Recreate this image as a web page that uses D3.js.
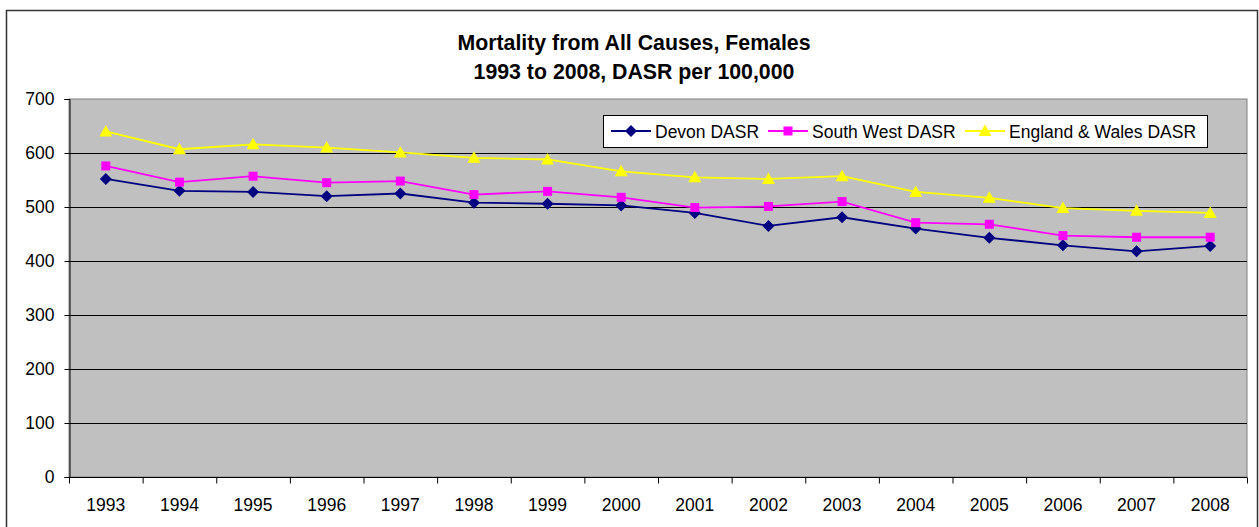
<!DOCTYPE html>
<html>
<head>
<meta charset="utf-8">
<script src="https://cdn.jsdelivr.net/npm/d3@7"></script>
<style>
  body { margin: 0; background: #fff; }
  svg text { font-family: "Liberation Sans", Arial, sans-serif; fill: #000; }
</style>
</head>
<body>
<svg id="chart" width="1259" height="527"></svg>
<script>
const years = ["1993","1994","1995","1996","1997","1998","1999","2000","2001","2002","2003","2004","2005","2006","2007","2008"]
const devon = [552, 530, 528, 520, 525, 508, 506, 503, 489, 465, 481, 460, 443, 429, 418, 428]
const southWest = [576, 546, 557, 545, 548, 523, 529, 518, 499, 501, 510, 471, 468, 447, 444, 444]
const englandWales = [640, 607, 616, 610, 601, 591, 588, 566, 555, 552, 557, 528, 517, 498, 493, 489]
const yTicks = [0, 100, 200, 300, 400, 500, 600, 700]

const series = [
    {name: "Devon DASR", values: devon, color: "#000080", marker: "diamond"},
    {name: "South West DASR", values: southWest, color: "#ff00ff", marker: "square"},
    {name: "England & Wales DASR", values: englandWales, color: "#ffff00", marker: "triangle"}
]

const svg = d3.select("#chart")
const plotLeft = 69, plotRight = 1247, plotTop = 99, plotBottom = 477

// outer chart border
svg.append("rect")
    .attr("x", 6.5).attr("y", 10.5)
    .attr("width", 1251).attr("height", 530)
    .attr("fill", "#fff").attr("stroke", "#333").attr("stroke-width", 1.5)

const x = d3.scaleBand().domain(years).range([plotLeft, plotRight])
const y = d3.scaleLinear().domain([0, 700]).range([plotBottom, plotTop])

// plot area
svg.append("rect")
    .attr("x", plotLeft).attr("y", plotTop)
    .attr("width", plotRight - plotLeft).attr("height", plotBottom - plotTop)
    .attr("fill", "#c0c0c0").attr("stroke", "#808080")

// gridlines
svg.append("g")
    .selectAll("line")
    .data(yTicks.filter(d => d > 0 && d < 700))
    .join("line")
    .attr("x1", plotLeft).attr("x2", plotRight)
    .attr("y1", d => y(d) + 0.5).attr("y2", d => y(d) + 0.5)
    .attr("stroke", "#000")

// y axis
const yAxis = svg.append("g")
    .attr("transform", `translate(${plotLeft + 0.5},0)`)
    .call(d3.axisLeft(y).tickValues(yTicks).tickSize(5).tickPadding(10))
yAxis.attr("font-size", null)
yAxis.select(".domain").attr("stroke", "#000")
yAxis.selectAll("text").style("font-size", "17.5px")

// x axis: ticks on category boundaries
const xAxis = svg.append("g").attr("transform", `translate(0,${plotBottom + 0.5})`)
xAxis.append("line").attr("x1", plotLeft).attr("x2", plotRight).attr("stroke", "#000")
xAxis.selectAll("line.tick")
    .data(years.concat(["end"]))
    .join("line")
    .attr("class", "tick")
    .attr("x1", (d, i) => plotLeft + i * x.bandwidth() + 0.5)
    .attr("x2", (d, i) => plotLeft + i * x.bandwidth() + 0.5)
    .attr("y1", 0).attr("y2", 6)
    .attr("stroke", "#000")
xAxis.selectAll("text")
    .data(years)
    .join("text")
    .attr("x", d => x(d) + x.bandwidth() / 2)
    .attr("y", 33)
    .attr("text-anchor", "middle")
    .style("font-size", "17.5px")
    .text(d => d)

const cx = (d, i) => x(years[i]) + x.bandwidth() / 2

const markerPath = (type) => {
    if (type === "diamond") return "M0,-6L6,0L0,6L-6,0Z"
    if (type === "square") return "M-4.5,-4.5H4.5V4.5H-4.5Z"
    return "M0,-6.5L6.5,5L-6.5,5Z"
}

const line = d3.line().x(cx).y(d => y(d))

series.forEach(s => {
    const g = svg.append("g")
    g.append("path")
        .datum(s.values)
        .attr("d", line)
        .attr("fill", "none")
        .attr("stroke", s.color)
        .attr("stroke-width", 1.8)
    g.selectAll("path.mk")
        .data(s.values)
        .join("path")
        .attr("class", "mk")
        .attr("transform", (d, i) => `translate(${cx(d, i)},${y(d)})`)
        .attr("d", markerPath(s.marker))
        .attr("fill", s.color)
})

// legend
const legend = svg.append("g")
legend.append("rect")
    .attr("x", 603.5).attr("y", 115.5)
    .attr("width", 604).attr("height", 32)
    .attr("fill", "#fff").attr("stroke", "#000")
const legendX = [611, 768, 965]
series.forEach((s, i) => {
    const lg = legend.append("g").attr("transform", `translate(${legendX[i]},131)`)
    lg.append("line").attr("x1", 0).attr("x2", 40).attr("stroke", s.color).attr("stroke-width", 1.8)
    lg.append("path").attr("transform", "translate(20,0)").attr("d", markerPath(s.marker)).attr("fill", s.color)
    lg.append("text").attr("x", 44).attr("y", 6.5).style("font-size", "17.5px").text(s.name)
})

// title
const title = svg.append("text")
    .attr("x", 634).attr("text-anchor", "middle")
    .style("font-size", "21.3px").attr("font-weight", "bold")
title.append("tspan").attr("x", 634).attr("y", 50).text("Mortality from All Causes, Females")
title.append("tspan").attr("x", 634).attr("y", 79).text("1993 to 2008, DASR per 100,000")
</script>
</body>
</html>
